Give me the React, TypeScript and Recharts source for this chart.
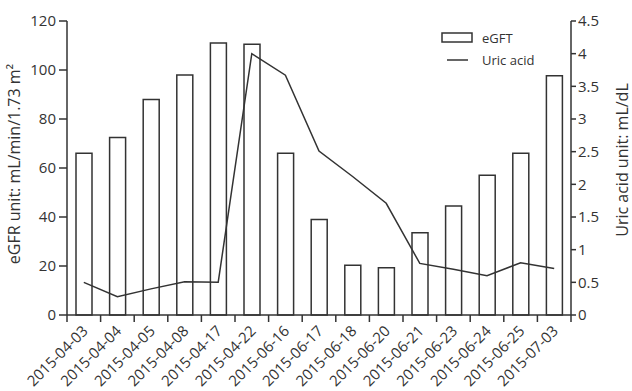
import {
  Bar,
  ComposedChart,
  Line,
  XAxis,
  YAxis,
} from "recharts";

const dates = [
  "2015-04-03",
  "2015-04-04",
  "2015-04-05",
  "2015-04-08",
  "2015-04-17",
  "2015-04-22",
  "2015-06-16",
  "2015-06-17",
  "2015-06-18",
  "2015-06-20",
  "2015-06-21",
  "2015-06-23",
  "2015-06-24",
  "2015-06-25",
  "2015-07-03",
];
const egfr = [66, 72.5, 88, 98, 111, 110.5, 66, 39, 20.3, 19.3, 33.6, 44.5, 57, 66, 97.7];
const uricAcid = [0.5, 0.28, 0.4, 0.51, 0.5, 4.0, 3.67, 2.51, 2.12, 1.71, 0.79, 0.7, 0.6, 0.8, 0.71];

const leftTicks = [0, 20, 40, 60, 80, 100, 120];
const rightTicks = [0, 0.5, 1, 1.5, 2, 2.5, 3, 3.5, 4, 4.5];

const data = dates.map((d, i) => ({ date: d, egft: egfr[i], uric: uricAcid[i] }));

const FONT = "'Open Sans', sans-serif";
const INK = "#333";
const PLOT_W = 504;
const BAND = PLOT_W / dates.length;

// tick marks sit on the band edges, labels on the band centres
const DateTick = (props: any) => {
  const { x, y, payload, index } = props;
  const axisY = y - 9;
  return (
    <g>
      <line x1={x - BAND / 2} y1={axisY} x2={x - BAND / 2} y2={axisY + 7} stroke={INK} strokeWidth={1.5} />
      {index === dates.length - 1 && (
        <line x1={x + BAND / 2} y1={axisY} x2={x + BAND / 2} y2={axisY + 7} stroke={INK} strokeWidth={1.5} />
      )}
      <text
        x={x + 5}
        y={y + 8}
        transform={`rotate(-45, ${x + 5}, ${y + 8})`}
        textAnchor="end"
        fontSize={15}
        fontFamily={FONT}
        fill={INK}
      >
        {payload.value}
      </text>
    </g>
  );
};

// legend drawn as an overlay so it doesn't eat plot space
const ChartLegend = () => (
  <div
    style={{
      position: "absolute",
      left: 436,
      top: 27,
      fontFamily: FONT,
      fontSize: 13,
      color: INK,
      lineHeight: "22px",
    }}
  >
    <div style={{ display: "flex", alignItems: "center" }}>
      <svg width={40} height={22}>
        <rect x={6} y={6} width={30} height={9} fill="#fff" stroke={INK} strokeWidth={1.5} />
      </svg>
      <span style={{ marginLeft: 6 }}>eGFT</span>
    </div>
    <div style={{ display: "flex", alignItems: "center" }}>
      <svg width={40} height={22}>
        <line x1={11} y1={11} x2={32} y2={11} stroke={INK} strokeWidth={1.5} />
      </svg>
      <span style={{ marginLeft: 6 }}>Uric acid</span>
    </div>
  </div>
);

const App = () => {
  return (
    <div style={{ position: "absolute", left: 0, top: 0, width: 632, height: 391 }}>
      <ComposedChart
        width={632}
        height={391}
        data={data}
        margin={{ top: 21, right: 0, left: 0, bottom: 0 }}
      >
        <XAxis
          dataKey="date"
          height={76}
          interval={0}
          tickLine={false}
          tickSize={7}
          tickMargin={2}
          axisLine={{ stroke: INK, strokeWidth: 1.5 }}
          tick={<DateTick />}
        />
        <YAxis
          yAxisId="left"
          width={67}
          domain={[0, 120]}
          ticks={leftTicks}
          tickSize={8}
          tickMargin={3}
          axisLine={{ stroke: INK, strokeWidth: 1.5 }}
          tickLine={{ stroke: INK, strokeWidth: 1.5 }}
          tick={{ fontSize: 15, fontFamily: FONT, fill: INK }}
          label={({ viewBox }: any) => (
            <text
              x={14}
              y={viewBox.y + viewBox.height / 2 - 4}
              transform={`rotate(-90, 14, ${viewBox.y + viewBox.height / 2 - 4})`}
              textAnchor="middle"
              dominantBaseline="central"
              fontSize={16}
              fontFamily={FONT}
              fill={INK}
            >
              eGFR unit: mL/min/1.73 m²
            </text>
          )}
        />
        <YAxis
          yAxisId="right"
          orientation="right"
          width={61}
          domain={[0, 4.5]}
          ticks={rightTicks}
          tickSize={5}
          tickMargin={2}
          axisLine={{ stroke: INK, strokeWidth: 1.5 }}
          tickLine={{ stroke: INK, strokeWidth: 1.5 }}
          tick={{ fontSize: 15, fontFamily: FONT, fill: INK, textAnchor: "start" }}
          label={({ viewBox }: any) => (
            <text
              x={622}
              y={viewBox.y + viewBox.height / 2 - 8}
              transform={`rotate(-90, 622, ${viewBox.y + viewBox.height / 2 - 8})`}
              textAnchor="middle"
              dominantBaseline="central"
              fontSize={16}
              fontFamily={FONT}
              fill={INK}
            >
              Uric acid unit: mL/dL
            </text>
          )}
        />
        <Bar
          yAxisId="left"
          dataKey="egft"
          name="eGFT"
          barSize={16}
          fill="#fff"
          stroke={INK}
          strokeWidth={1.5}
          isAnimationActive={false}
        />
        <Line
          yAxisId="right"
          dataKey="uric"
          name="Uric acid"
          type="linear"
          stroke={INK}
          strokeWidth={1.5}
          dot={false}
          activeDot={false}
          isAnimationActive={false}
        />
      </ComposedChart>
      <ChartLegend />
    </div>
  );
};

export default App;
